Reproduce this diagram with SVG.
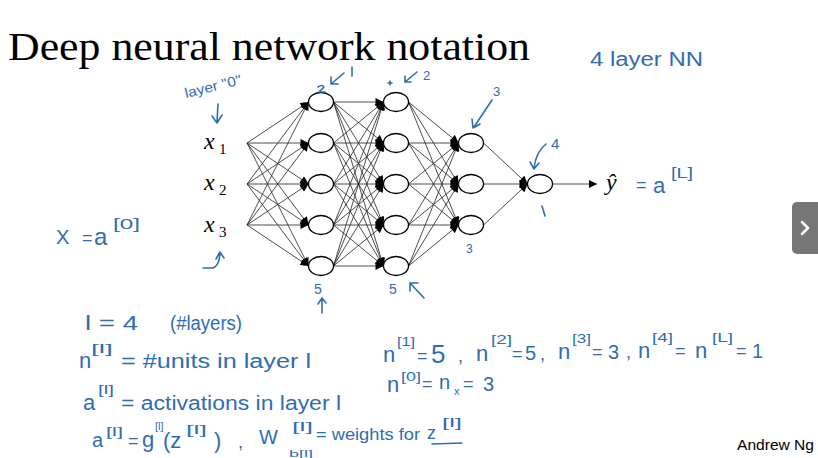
<svg xmlns="http://www.w3.org/2000/svg" width="818" height="458" viewBox="0 0 818 458">
<defs>
<marker id="ah" viewBox="0 0 10 10" refX="10" refY="5" markerWidth="9" markerHeight="8" markerUnits="userSpaceOnUse" orient="auto">
<path d="M0,0 L10,5 L0,10 z" fill="#000"/>
</marker>
<style>
.hw{font-family:"Liberation Sans",Arial,sans-serif;fill:#2e6db4}
.pen{fill:none;stroke:#2e6db4;stroke-width:1.6;stroke-linecap:round;stroke-linejoin:round}
.edges line{stroke:#222;stroke-width:0.8;marker-end:url(#ah)}
.node ellipse{fill:#fff;stroke:#000;stroke-width:1.3}
.math{font-family:"Liberation Serif","Times New Roman",serif;font-style:italic;fill:#000}
</style>
</defs>
<rect width="818" height="458" fill="#fff"/>
<text x="8" y="60" font-family="Liberation Serif,'Times New Roman',serif" font-size="41" textLength="522" lengthAdjust="spacingAndGlyphs" fill="#000">Deep neural network notation</text>

<g id="connectors" class="edges">
<line x1="247" y1="143" x2="308.5" y2="102"/><line x1="247" y1="143" x2="308.5" y2="143"/><line x1="247" y1="143" x2="308.5" y2="184"/><line x1="247" y1="143" x2="308.5" y2="225"/><line x1="247" y1="143" x2="308.5" y2="266"/>
<line x1="247" y1="184" x2="308.5" y2="102"/><line x1="247" y1="184" x2="308.5" y2="143"/><line x1="247" y1="184" x2="308.5" y2="184"/><line x1="247" y1="184" x2="308.5" y2="225"/><line x1="247" y1="184" x2="308.5" y2="266"/>
<line x1="247" y1="225" x2="308.5" y2="102"/><line x1="247" y1="225" x2="308.5" y2="143"/><line x1="247" y1="225" x2="308.5" y2="184"/><line x1="247" y1="225" x2="308.5" y2="225"/><line x1="247" y1="225" x2="308.5" y2="266"/>

<line x1="333.5" y1="102" x2="383.5" y2="102"/><line x1="333.5" y1="102" x2="383.5" y2="143"/><line x1="333.5" y1="102" x2="383.5" y2="184"/><line x1="333.5" y1="102" x2="383.5" y2="225"/><line x1="333.5" y1="102" x2="383.5" y2="266"/>
<line x1="333.5" y1="143" x2="383.5" y2="102"/><line x1="333.5" y1="143" x2="383.5" y2="143"/><line x1="333.5" y1="143" x2="383.5" y2="184"/><line x1="333.5" y1="143" x2="383.5" y2="225"/><line x1="333.5" y1="143" x2="383.5" y2="266"/>
<line x1="333.5" y1="184" x2="383.5" y2="102"/><line x1="333.5" y1="184" x2="383.5" y2="143"/><line x1="333.5" y1="184" x2="383.5" y2="184"/><line x1="333.5" y1="184" x2="383.5" y2="225"/><line x1="333.5" y1="184" x2="383.5" y2="266"/>
<line x1="333.5" y1="225" x2="383.5" y2="102"/><line x1="333.5" y1="225" x2="383.5" y2="143"/><line x1="333.5" y1="225" x2="383.5" y2="184"/><line x1="333.5" y1="225" x2="383.5" y2="225"/><line x1="333.5" y1="225" x2="383.5" y2="266"/>
<line x1="333.5" y1="266" x2="383.5" y2="102"/><line x1="333.5" y1="266" x2="383.5" y2="143"/><line x1="333.5" y1="266" x2="383.5" y2="184"/><line x1="333.5" y1="266" x2="383.5" y2="225"/><line x1="333.5" y1="266" x2="383.5" y2="266"/>

<line x1="408.5" y1="102" x2="458.5" y2="143"/><line x1="408.5" y1="102" x2="458.5" y2="184"/><line x1="408.5" y1="102" x2="458.5" y2="225"/>
<line x1="408.5" y1="143" x2="458.5" y2="143"/><line x1="408.5" y1="143" x2="458.5" y2="184"/><line x1="408.5" y1="143" x2="458.5" y2="225"/>
<line x1="408.5" y1="184" x2="458.5" y2="143"/><line x1="408.5" y1="184" x2="458.5" y2="184"/><line x1="408.5" y1="184" x2="458.5" y2="225"/>
<line x1="408.5" y1="225" x2="458.5" y2="143"/><line x1="408.5" y1="225" x2="458.5" y2="184"/><line x1="408.5" y1="225" x2="458.5" y2="225"/>
<line x1="408.5" y1="266" x2="458.5" y2="143"/><line x1="408.5" y1="266" x2="458.5" y2="184"/><line x1="408.5" y1="266" x2="458.5" y2="225"/>

<line x1="483.5" y1="143" x2="527.5" y2="184"/><line x1="483.5" y1="184" x2="527.5" y2="184"/><line x1="483.5" y1="225" x2="527.5" y2="184"/>
<line x1="552.5" y1="184" x2="597" y2="184"/>
</g>

<g id="x1"><text class="math" x="204" y="149" font-size="24">x</text><text x="219" y="154" font-family="Liberation Serif,serif" font-size="15">1</text></g>
<g id="x2"><text class="math" x="204" y="190" font-size="24">x</text><text x="219" y="195" font-family="Liberation Serif,serif" font-size="15">2</text></g>
<g id="x3"><text class="math" x="204" y="232" font-size="24">x</text><text x="219" y="237" font-family="Liberation Serif,serif" font-size="15">3</text></g>

<g id="l1n1" class="node"><ellipse cx="321" cy="102" rx="12.5" ry="9.5"/></g>
<g id="l1n2" class="node"><ellipse cx="321" cy="143" rx="12.5" ry="9.5"/></g>
<g id="l1n3" class="node"><ellipse cx="321" cy="184" rx="12.5" ry="9.5"/></g>
<g id="l1n4" class="node"><ellipse cx="321" cy="225" rx="12.5" ry="9.5"/></g>
<g id="l1n5" class="node"><ellipse cx="321" cy="266" rx="12.5" ry="9.5"/></g>
<g id="l2n1" class="node"><ellipse cx="396" cy="102" rx="12.5" ry="9.5"/></g>
<g id="l2n2" class="node"><ellipse cx="396" cy="143" rx="12.5" ry="9.5"/></g>
<g id="l2n3" class="node"><ellipse cx="396" cy="184" rx="12.5" ry="9.5"/></g>
<g id="l2n4" class="node"><ellipse cx="396" cy="225" rx="12.5" ry="9.5"/></g>
<g id="l2n5" class="node"><ellipse cx="396" cy="266" rx="12.5" ry="9.5"/></g>
<g id="l3n1" class="node"><ellipse cx="471" cy="143" rx="12.5" ry="9.5"/></g>
<g id="l3n2" class="node"><ellipse cx="471" cy="184" rx="12.5" ry="9.5"/></g>
<g id="l3n3" class="node"><ellipse cx="471" cy="225" rx="12.5" ry="9.5"/></g>
<g id="l4n1" class="node"><ellipse cx="540" cy="184" rx="12.5" ry="9.5"/></g>

<g id="yhat"><text class="math" x="606" y="190" font-size="24">ŷ</text></g>

<g id="annotations">
<text class="hw" x="186" y="98" font-size="14" transform="rotate(-14 186 98)" textLength="58" lengthAdjust="spacingAndGlyphs">layer "0"</text>
<path class="pen" d="M218,104 L217,122 M212,116 L217,123 L222,115"/>
<path class="pen" d="M318,87 q4,-3 6,0 l-5,5 l6,0" stroke-width="1.1"/>
<path class="pen" d="M344,73 L331,84 M331,77 L331,84 L338,84"/>
<path class="pen" d="M352,67 L352,76"/>
<path class="pen" d="M388,83 l4,0 M390,81 l0,4" stroke-width="1.1"/>
<path class="pen" d="M417,72 L405,82 M405,76 L405,82 L411,82"/>
<text class="hw" x="423" y="80" font-size="13">2</text>
<text class="hw" x="493" y="96" font-size="13">3</text>
<path class="pen" d="M492,100 L474,127 M472,119 L473,128 L480,124"/>
<text class="hw" x="551" y="149" font-size="15">4</text>
<path class="pen" d="M546,144 Q536,152 534,168 M530,162 L534,169 L539,163"/>
<path class="pen" d="M542,206 L545,216"/>
<text class="hw" x="466" y="253" font-size="12">3</text>
<text class="hw" x="314" y="294" font-size="14">5</text>
<path class="pen" d="M322,313 L322,299 M318,304 L322,298 L326,303"/>
<text class="hw" x="389" y="294" font-size="14">5</text>
<path class="pen" d="M424,298 L410,283 M410,291 L410,283 L418,283"/>
<path class="pen" d="M203,268 L213,268 Q219,266 220,254 M216,259 L220,252 L224,258"/>

<text class="hw" x="590" y="66" font-size="20" textLength="113" lengthAdjust="spacingAndGlyphs">4 layer NN</text>

<text class="hw" x="636" y="191" font-size="18">=</text>
<text class="hw" x="653" y="193" font-size="22">a</text>
<text class="hw" x="671" y="178" font-size="14" textLength="22" lengthAdjust="spacingAndGlyphs">[L]</text>

<text class="hw" x="56" y="244" font-size="20">X</text>
<text class="hw" x="82" y="244" font-size="18">=</text>
<text class="hw" x="94" y="245" font-size="24">a</text>
<text class="hw" x="113" y="229" font-size="14" textLength="27" lengthAdjust="spacingAndGlyphs">[0]</text>

<text class="hw" x="85" y="330" font-size="20" textLength="53" lengthAdjust="spacingAndGlyphs">l = 4</text>
<text class="hw" x="170" y="330" font-size="20" textLength="72" lengthAdjust="spacingAndGlyphs">(#layers)</text>

<text class="hw" x="79" y="368" font-size="22">n</text>
<text class="hw" x="91" y="353" font-size="13" textLength="22" lengthAdjust="spacingAndGlyphs">[l]</text>
<text class="hw" x="121" y="368" font-size="20" textLength="190" lengthAdjust="spacingAndGlyphs">= #units in layer l</text>

<text class="hw" x="83" y="410" font-size="22">a</text>
<text class="hw" x="98" y="394" font-size="13" textLength="16" lengthAdjust="spacingAndGlyphs">[l]</text>
<text class="hw" x="121" y="410" font-size="20" textLength="220" lengthAdjust="spacingAndGlyphs">= activations in layer l</text>

<text class="hw" x="92" y="447" font-size="20">a</text>
<text class="hw" x="106" y="436" font-size="13" textLength="17" lengthAdjust="spacingAndGlyphs">[l]</text>
<text class="hw" x="128" y="447" font-size="18">=</text>
<text class="hw" x="142" y="447" font-size="22">g</text>
<text class="hw" x="155" y="430" font-size="11">[l]</text>
<text class="hw" x="163" y="448" font-size="22">(z</text>
<text class="hw" x="186" y="434" font-size="13" textLength="21" lengthAdjust="spacingAndGlyphs">[l]</text>
<text class="hw" x="214" y="448" font-size="22">)</text>
<text class="hw" x="238" y="448" font-size="18">,</text>
<text class="hw" x="259" y="444" font-size="20">W</text>
<text class="hw" x="292" y="431" font-size="13" textLength="21" lengthAdjust="spacingAndGlyphs">[l]</text>
<text class="hw" x="289" y="457" font-size="9" textLength="24" lengthAdjust="spacingAndGlyphs">b[l]</text>
<text class="hw" x="316" y="440" font-size="17" textLength="104" lengthAdjust="spacingAndGlyphs">= weights for</text>
<text class="hw" x="427" y="439" font-size="18">z</text>
<text class="hw" x="442" y="427" font-size="13" textLength="20" lengthAdjust="spacingAndGlyphs">[l]</text>
<path class="pen" d="M432,444 L462,443"/>

<text class="hw" x="383" y="362" font-size="22">n</text>
<text class="hw" x="397" y="346" font-size="13" textLength="18" lengthAdjust="spacingAndGlyphs">[1]</text>
<text class="hw" x="417" y="362" font-size="18">=</text>
<text class="hw" x="431" y="363" font-size="26">5</text>
<text class="hw" x="458" y="362" font-size="18">,</text>
<text class="hw" x="476" y="361" font-size="22">n</text>
<text class="hw" x="491" y="344" font-size="13" textLength="21" lengthAdjust="spacingAndGlyphs">[2]</text>
<text class="hw" x="512" y="360" font-size="18">=</text>
<text class="hw" x="525" y="360" font-size="20">5</text>
<text class="hw" x="540" y="360" font-size="18">,</text>
<text class="hw" x="558" y="359" font-size="22">n</text>
<text class="hw" x="572" y="343" font-size="13" textLength="19" lengthAdjust="spacingAndGlyphs">[3]</text>
<text class="hw" x="592" y="358" font-size="18">=</text>
<text class="hw" x="608" y="359" font-size="20">3</text>
<text class="hw" x="626" y="358" font-size="18">,</text>
<text class="hw" x="638" y="358" font-size="22">n</text>
<text class="hw" x="652" y="342" font-size="13" textLength="21" lengthAdjust="spacingAndGlyphs">[4]</text>
<text class="hw" x="675" y="357" font-size="18">=</text>
<text class="hw" x="695" y="358" font-size="22">n</text>
<text class="hw" x="712" y="342" font-size="13" textLength="21" lengthAdjust="spacingAndGlyphs">[L]</text>
<text class="hw" x="736" y="357" font-size="18">=</text>
<text class="hw" x="752" y="358" font-size="20">1</text>

<text class="hw" x="387" y="392" font-size="22">n</text>
<text class="hw" x="401" y="381" font-size="13" textLength="20" lengthAdjust="spacingAndGlyphs">[0]</text>
<text class="hw" x="422" y="390" font-size="18">=</text>
<text class="hw" x="439" y="389" font-size="20">n</text>
<text class="hw" x="454" y="395" font-size="11">x</text>
<text class="hw" x="463" y="390" font-size="18">=</text>
<text class="hw" x="483" y="391" font-size="20">3</text>
</g>

<text x="737" y="450" font-family="Liberation Sans,Arial,sans-serif" font-size="15" textLength="77" lengthAdjust="spacingAndGlyphs" fill="#000">Andrew Ng</text>

<g id="nav-tab">
<rect x="792" y="202" width="32" height="52" rx="5" fill="#777"/>
<polyline points="802,222 808,228 802,234" fill="none" stroke="#fff" stroke-width="2.5" stroke-linecap="round" stroke-linejoin="round"/>
</g>
</svg>
